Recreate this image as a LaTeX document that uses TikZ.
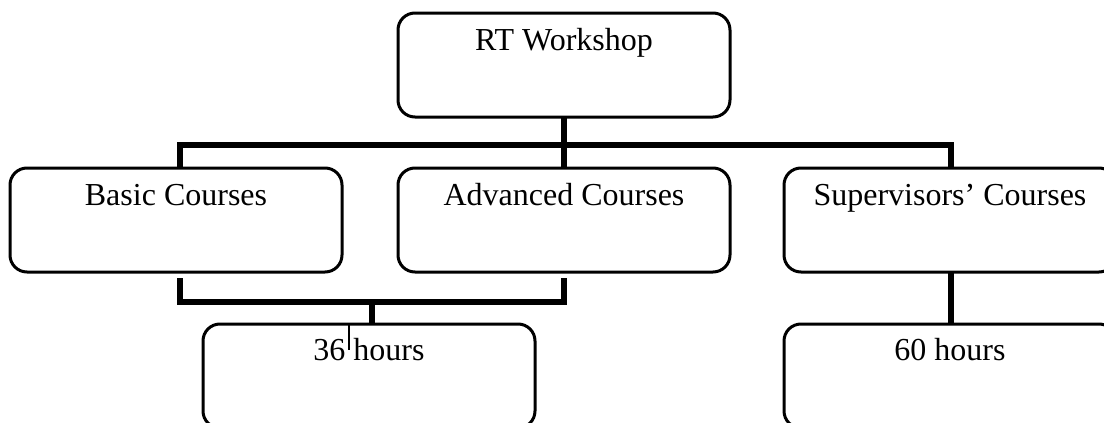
\documentclass[tikz,border=0pt]{standalone}
\usepackage{fontspec}
\setmainfont{Liberation Serif}
\begin{document}
\begin{tikzpicture}[x=0.5pt,y=-0.5pt,
  box/.style={draw,line width=1.5pt,rounded corners=8.5pt,minimum width=166pt,minimum height=52pt,inner sep=0pt,outer sep=0pt},
  lbl/.style={anchor=base,inner sep=0pt,font=\fontsize{16}{19}\selectfont},
  conn/.style={line width=2.6pt},
  hair/.style={line width=0.6pt}]
\clip (0,0) rectangle (1104,423);
\fill[white] (0,0) rectangle (1104,423);
\node[box] (rt) at (564,65) {};
\node[box] (basic) at (176,220) {};
\node[box] (adv) at (564,220) {};
\node[box] (sup) at (950,220) {};
\node[box] (h36) at (369,376) {};
\node[box] (h60) at (950,376) {};
\node[lbl] (rtt) at ([yshift=-18.5pt]rt.north) {RT Workshop};
\node[lbl] (basict) at ([yshift=-18.5pt]basic.north) {Basic Courses};
\node[lbl] (advt) at ([yshift=-18.5pt]adv.north) {Advanced Courses};
\node[lbl] (supt) at ([yshift=-18.5pt]sup.north) {Supervisors’ Courses};
\node[lbl] (h36t) at ([yshift=-18pt]h36.north) {36 hours};
\node[lbl] (h60t) at ([yshift=-18pt]h60.north) {60 hours};
% top tree
\coordinate (tl) at (180,145);
\coordinate (tr) at (951,145);
\draw[conn] (rt.south) -- (adv.north);
\draw[conn] (tl |- basic.north) -- (tl) -- (tr) -- (tr |- sup.north);
% bottom tree
\coordinate (bl) at (180,302);
\coordinate (br) at (564,302);
\coordinate (bj) at (372,302);
\draw[conn] ([yshift=-3pt]bl |- basic.south) -- (bl) -- (br) -- ([yshift=-3pt]br |- adv.south);
\draw[conn] (bj) -- (bj |- h36.north);
\draw[conn] (sup.south -| tr) -- (h60.north -| tr);
% thin mark
\coordinate (hm) at (349,350);
\draw[hair] (hm |- h36.north) -- (hm);
\end{tikzpicture}
\end{document}
